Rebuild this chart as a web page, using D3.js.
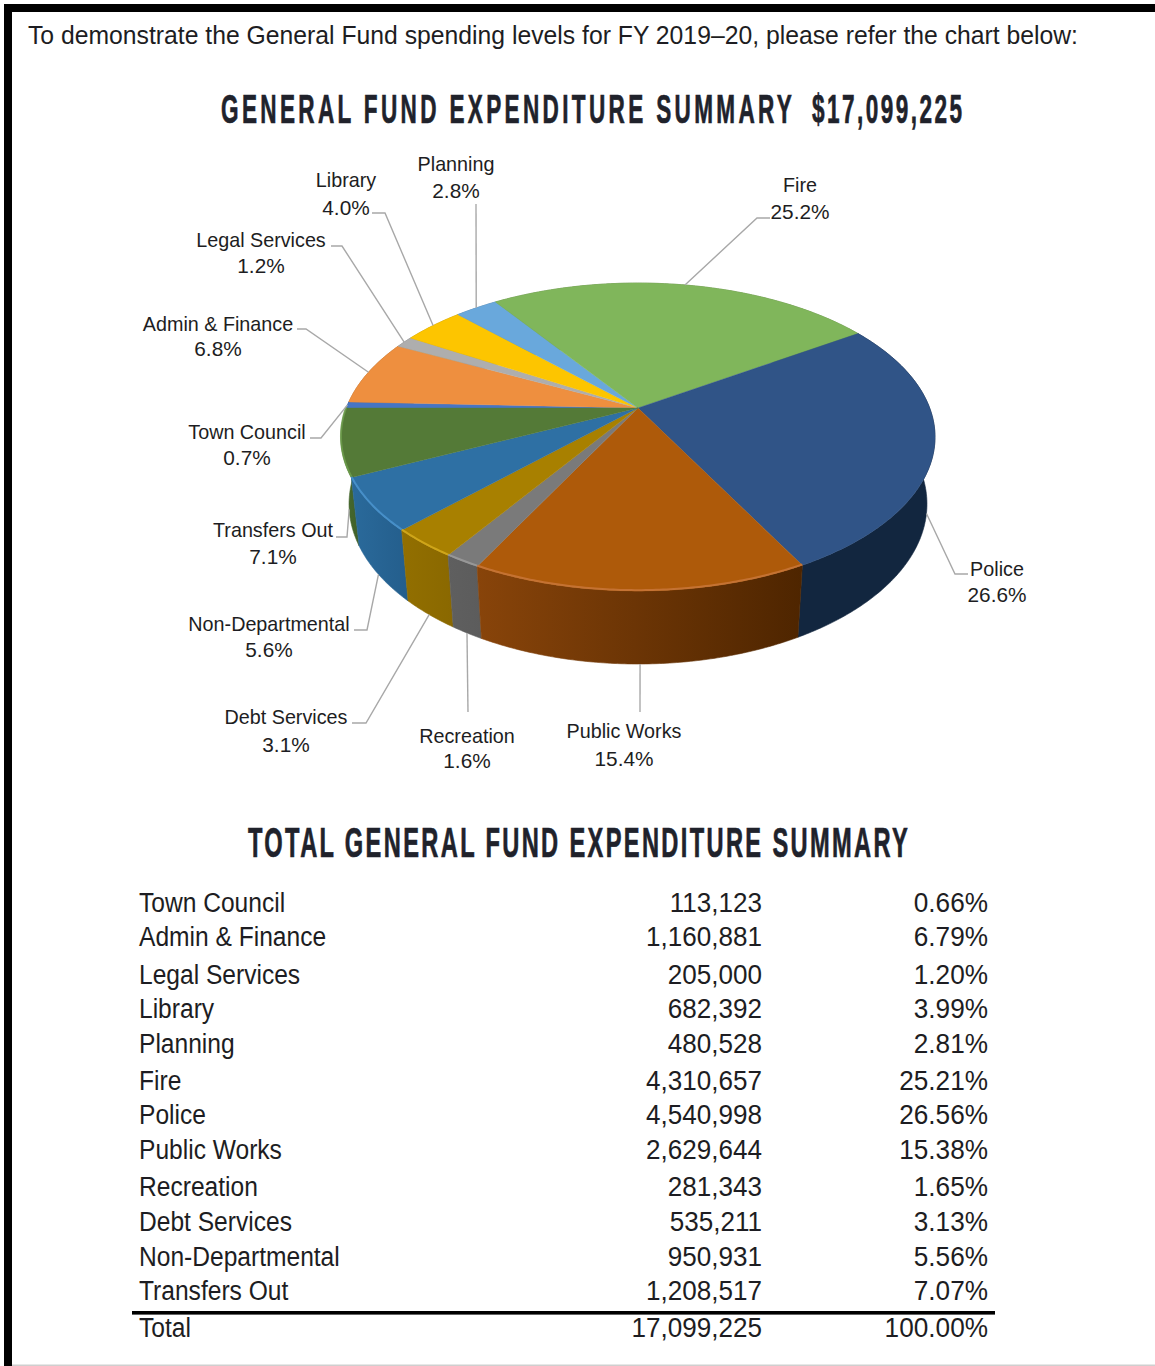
<!DOCTYPE html>
<html>
<head>
<meta charset="utf-8">
<script src="https://cdn.jsdelivr.net/npm/d3@7/dist/d3.min.js"></script>
<style>
  html, body { margin: 0; padding: 0; background: #fff; overflow: hidden; }
  svg { display: block; }
  text { font-family: "Liberation Sans", Arial, sans-serif; fill: #1d1d22; }
  .heading { font-weight: 700; fill: #20222b; stroke: #20222b; stroke-width: 0.7; }
</style>
</head>
<body>
<svg id="page" width="1155" height="1366"></svg>
<script>
// General Fund departments, in the order they run clockwise round the pie
const departments = ["Town Council", "Admin & Finance", "Legal Services", "Library", "Planning", "Fire",
  "Police", "Public Works", "Recreation", "Debt Services", "Non-Departmental", "Transfers Out"];
const amounts = [113123, 1160881, 205000, 682392, 480528, 4310657,
  4540998, 2629644, 281343, 535211, 950931, 1208517];
const total = 17099225;

// Slice fills: top face, side shading from left to right, and the bright bevel on the front rim
const topColors = ["#4675c4", "#ee8f3f", "#aeaeae", "#fdc500", "#69a8dc", "#80b65b",
  "#305487", "#ae5a0a", "#7a7a7a", "#a88000", "#2e70a4", "#547a37"];
const sideStart = ["#2f528f", "#ae6a2e", "#808080", "#bb9300", "#4e7ca3", "#5f8743",
  "#12263f", "#88440a", "#5f5f5f", "#926f00", "#2a6a9b", "#4a6d30"];
const sideEnd = ["#2f528f", "#ae6a2e", "#808080", "#bb9300", "#4e7ca3", "#5f8743",
  "#12263f", "#4e2500", "#5c5c5c", "#8a6800", "#245e8c", "#3f5f29"];
const bevelColors = [null, null, null, null, null, null,
  null, "#c9773a", "#9c9c9c", "#d6ac1c", "#4a94cf", "#6d9c4c"];

// Callout placement for each slice: label centre, two text baselines, leader start and elbow
const labelX = [247, 218, 261, 346, 456, 800, 997, 624, 467, 286, 269, 273];
const labelNameY = [439, 331, 247, 187, 171, 192, 576, 738, 743, 724, 631, 537];
const labelPctY = [465, 356, 273, 215, 198, 219, 602, 766, 768, 752, 657, 564];
const leaderStart = [[310, 438], [297, 329], [331, 246], [372, 213], [476, 204], [770, 218],
  [968, 574], [640, 712], [468, 712], [352, 723], [354, 630], [336, 537]];
const leaderElbow = [[321, 438], [306, 329], [342, 246], [385, 213], [476, 204], [757, 218],
  [955, 574], [640, 712], [468, 712], [366, 723], [367, 630], [347, 537]];

const rowBaselines = [912, 946, 984, 1018, 1053, 1090, 1124, 1159, 1196, 1231, 1266, 1300];
const totalBaseline = 1337;

const svg = d3.select("#page");
const defs = svg.append("defs");

// Page frame
svg.append("rect").attr("x", 4).attr("y", 4).attr("width", 1151).attr("height", 8).attr("fill", "#000");
svg.append("rect").attr("x", 4).attr("y", 4).attr("width", 8).attr("height", 1362).attr("fill", "#000");
svg.append("rect").attr("x", 12).attr("y", 1364.5).attr("width", 1143).attr("height", 1.5).attr("fill", "#cfcfcf");

// Stretches or squeezes a text run to an exact width
function fitWidth(sel, width) {
  sel.attr("textLength", width).attr("lengthAdjust", "spacingAndGlyphs");
}
function squeeze(sel, factor) {
  sel.each(function () {
    const natural = this.getComputedTextLength();
    d3.select(this).attr("textLength", natural * factor).attr("lengthAdjust", "spacingAndGlyphs");
  });
}

// Poster-style heading: slim tall glyphs opened up with tracking to fill a set width
function heading(str, x, y, size, width, slim) {
  const t = svg.append("text").attr("class", "heading").attr("font-size", size).text(str);
  const natural = t.node().getComputedTextLength();
  const tracking = (width / slim - natural) / (str.length - 1);
  t.attr("letter-spacing", tracking)
   .attr("transform", `translate(${x},${y}) scale(${slim},1)`);
}

svg.append("text").attr("x", 28).attr("y", 44).attr("font-size", 26)
  .text("To demonstrate the General Fund spending levels for FY 2019\u201320, please refer the chart below:")
  .call(fitWidth, 1050);

heading("GENERAL FUND EXPENDITURE SUMMARY", 221, 123, 41, 571, 0.55);
heading("$" + d3.format(",")(total), 812, 123, 41, 150, 0.55);
heading("TOTAL GENERAL FUND EXPENDITURE SUMMARY", 248, 857, 43, 660, 0.55);

// Tilted pie: each rim is a perspective projection of a circle, so the hub sits
// above the centre of the ellipse and slice angles stay true to their share.
const tilt = 0.1883;
const topDisc = { cx: 638, cy: 408, rx: 291.7, ry: 148.5 };
const baseDisc = { cx: 638, cy: 473.9, rx: 283.8, ry: 154.3 };

function project(disc, angle) {
  const u = Math.sin(angle), v = -Math.cos(angle), d = 1 - tilt * v;
  return [disc.cx + disc.rx * u / d, disc.cy + disc.ry * v / d];
}
function rim(disc, a0, a1) {
  const n = Math.max(2, Math.ceil((a1 - a0) / 0.01));
  return d3.range(n + 1).map(i => project(disc, a0 + (a1 - a0) * i / n));
}

const pie = d3.pie().sort(null).startAngle(-Math.PI / 2).endAngle(Math.PI * 1.5).value(d => d);
const slices = pie(amounts).map((s, i) => ({ ...s, i, mid: (s.startAngle + s.endAngle) / 2 }));
const line = d3.line();
const chart = svg.append("g");

// Side walls first, back to front, then the top faces over them
const sideOrder = slices.slice().sort((a, b) => -Math.cos(a.mid) - -Math.cos(b.mid));
sideOrder.forEach(s => {
  const upper = rim(topDisc, s.startAngle, s.endAngle);
  const lower = rim(baseDisc, s.startAngle, s.endAngle);
  const xs = upper.concat(lower).map(p => p[0]);
  const id = "side" + s.i;
  const grad = defs.append("linearGradient").attr("id", id).attr("gradientUnits", "userSpaceOnUse")
    .attr("x1", d3.min(xs)).attr("x2", d3.max(xs)).attr("y1", 0).attr("y2", 0);
  grad.append("stop").attr("offset", 0).attr("stop-color", sideStart[s.i]);
  grad.append("stop").attr("offset", 1).attr("stop-color", sideEnd[s.i]);
  chart.append("path")
    .attr("d", line(upper.concat(lower.reverse())) + "Z")
    .attr("fill", `url(#${id})`)
    .attr("stroke", `url(#${id})`).attr("stroke-width", 0.6);
});

slices.forEach(s => {
  const hub = [topDisc.cx, topDisc.cy];
  chart.append("path")
    .attr("d", line([hub].concat(rim(topDisc, s.startAngle, s.endAngle))) + "Z")
    .attr("fill", topColors[s.i])
    .attr("stroke", topColors[s.i]).attr("stroke-width", 0.4).attr("stroke-linejoin", "round");
});

// Bevel highlight just inside the front rim
slices.filter(s => bevelColors[s.i]).forEach(s => {
  const inset = { cx: topDisc.cx, cy: topDisc.cy - 0.8, rx: topDisc.rx, ry: topDisc.ry };
  chart.append("path")
    .attr("d", line(rim(inset, s.startAngle, s.endAngle)))
    .attr("fill", "none").attr("stroke", bevelColors[s.i]).attr("stroke-width", 2).attr("opacity", 0.85);
});

// Leader lines end on the top rim behind the pie and on the base rim in front of it
const pctLabel = d3.format(".1%");
slices.forEach(s => {
  const front = -Math.cos(s.mid) > 0;
  const end = project(front ? baseDisc : topDisc, s.mid);
  const pts = [leaderStart[s.i], leaderElbow[s.i], end];
  chart.append("path").attr("d", line(pts))
    .attr("fill", "none").attr("stroke", "#a8a8a8").attr("stroke-width", 1.4);
  const name = chart.append("text").attr("x", labelX[s.i]).attr("y", labelNameY[s.i])
    .attr("text-anchor", "middle").attr("font-size", 21).text(departments[s.i]);
  const pct = chart.append("text").attr("x", labelX[s.i]).attr("y", labelPctY[s.i])
    .attr("text-anchor", "middle").attr("font-size", 21).text(pctLabel(amounts[s.i] / total));
  squeeze(name, 0.94);
  squeeze(pct, 0.99);
});

// Summary table
const table = svg.append("g").attr("font-size", 27);
const money = d3.format(","), share = d3.format(".2%");
const tableRows = departments.map((d, i) => ({ name: d, amount: amounts[i], y: rowBaselines[i] }));
tableRows.push({ name: "Total", amount: total, y: totalBaseline });
tableRows.forEach(r => {
  squeeze(table.append("text").attr("x", 139).attr("y", r.y).text(r.name), 0.91);
  squeeze(table.append("text").attr("x", 762).attr("y", r.y).attr("text-anchor", "end").text(money(r.amount)), 0.965);
  squeeze(table.append("text").attr("x", 988).attr("y", r.y).attr("text-anchor", "end").text(share(r.amount / total)), 0.97);
});
table.append("rect").attr("x", 132).attr("y", 1311).attr("width", 863).attr("height", 3.6).attr("fill", "#000");
</script>
</body>
</html>
